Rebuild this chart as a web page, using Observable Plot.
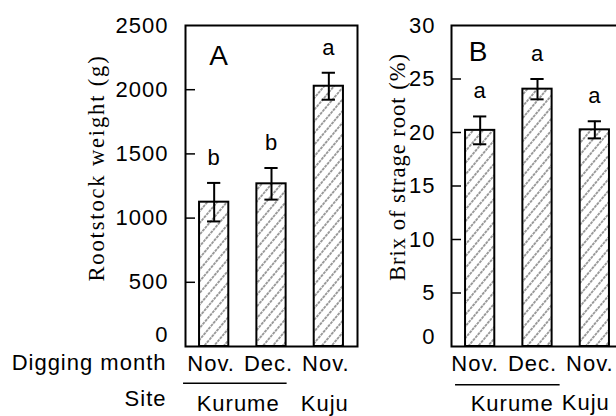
<!DOCTYPE html>
<html><head><meta charset="utf-8">
<script src="https://cdn.jsdelivr.net/npm/d3@7"></script>
<script src="https://cdn.jsdelivr.net/npm/@observablehq/plot@0.6"></script>
<style>
html,body{margin:0;padding:0;background:#fff;overflow:hidden;width:616px;height:416px}
#wrap{position:relative;width:616px;height:416px;overflow:hidden}
</style></head><body>
<svg width="0" height="0" style="position:absolute;left:0;top:0">
<defs><pattern id="hatch" patternUnits="userSpaceOnUse" width="7.5" height="7.5" patternTransform="rotate(40)">
<line x1="3.75" y1="-1" x2="3.75" y2="8.5" stroke="#2a2a2a" stroke-width="0.9" stroke-dasharray="3 0.8"/></pattern></defs></svg>
<div id="wrap"></div>
<script>
const months = ["Nov.", "Dec.", "Nov."];
const sites = ["Kurume", "Kurume", "Kuju"];
const weightMean = [1124, 1267, 2027];
const weightSE = [150, 123, 105];
const weightLetters = ["b", "b", "a"];
const brixMean = [20.2, 24.05, 20.25];
const brixSE = [1.3, 0.95, 0.8];
const brixLetters = ["a", "a", "a"];
const weightTicks = [0, 500, 1000, 1500, 2000, 2500];
const brixTicks = [0, 5, 10, 15, 20, 25, 30];

function panel(o) {
  const rows = months.map((m, i) => ({key: sites[i] + " " + m + " " + i, month: m, site: sites[i], mean: o.means[i], se: o.ses[i], letter: o.letters[i]}));
  const keys = rows.map(d => d.key);
  const yMax = o.ticks[o.ticks.length - 1];
  const inner = o.ticks.filter(t => t > 0 && t < yMax);
  const frameW = o.width - o.marginLeft - o.marginRight;
  const marks = [
    Plot.barY(rows, {x: "key", y: "mean", fill: "url(#hatch)", stroke: "black", strokeWidth: 2}),
    Plot.ruleX(rows, {x: "key", y1: d => d.mean - d.se, y2: d => d.mean + d.se, strokeWidth: 2}),
    Plot.tickY(rows, {x: "key", y: d => d.mean + d.se, strokeWidth: 2, inset: 8}),
    Plot.tickY(rows, {x: "key", y: d => d.mean - d.se, strokeWidth: 2, inset: 8}),
    Plot.ruleY(inner, {y: d => d, insetRight: frameW - 10, strokeWidth: 1.5}),
    Plot.frame({strokeWidth: 2}),
    Plot.text(o.ticks.filter(t => t > 0), {y: d => d, text: d => String(d), frameAnchor: "left", dx: o.tickDx, textAnchor: "end", lineAnchor: "middle", fontSize: 22}),
    Plot.text([0], {y: d => d, text: d => String(d), frameAnchor: "left", dx: o.tickDx, dy: o.zeroDy, textAnchor: "end", lineAnchor: "middle", fontSize: 22}),
    Plot.text(rows, {x: "key", y: d => d.mean + d.se, text: "letter", dy: -25, lineAnchor: "middle", fontSize: 22}),
    Plot.text([o.panelLabel], {frameAnchor: "top-left", dx: o.labelDx, dy: o.labelDy, textAnchor: "middle", lineAnchor: "middle", fontSize: 28}),
    Plot.text(rows, {x: "key", text: "month", frameAnchor: "bottom", dx: o.monthDx, dy: 17.5, lineAnchor: "middle", fontSize: 22}),
    Plot.ruleY([0], {x1: () => keys[0], x2: () => keys[1], dy: o.lineDy, insetLeft: o.lineInsetL, insetRight: o.lineInsetR, strokeWidth: 1.5}),
    Plot.text([rows[0]], {x: "key", text: "site", frameAnchor: "bottom", dx: o.kurumeDx, dy: o.kurumeDy, lineAnchor: "middle", fontSize: 22}),
    Plot.text([rows[2]], {x: "key", text: "site", frameAnchor: "bottom", dx: o.kujuDx, dy: o.kujuDy, lineAnchor: "middle", fontSize: 22}),
    Plot.text([o.ylabel], {frameAnchor: "left", dx: o.ylabDx, dy: o.ylabDy, rotate: -90, textAnchor: "middle", lineAnchor: "middle", fontFamily: "Liberation Serif, Times New Roman, serif", fontSize: 22.5, className: o.ylabClass})
  ];
  if (o.rowLabels) {
    marks.push(Plot.text(["Digging month"], {frameAnchor: "bottom-left", dx: -19, dy: 16, textAnchor: "end", lineAnchor: "middle", fontSize: 22}));
    marks.push(Plot.text(["Site"], {frameAnchor: "bottom-left", dx: -19, dy: 52, textAnchor: "end", lineAnchor: "middle", fontSize: 22}));
  }
  return Plot.plot({
    width: o.width, height: 416,
    marginLeft: o.marginLeft, marginRight: o.marginRight, marginTop: 25, marginBottom: 70,
    style: {fontFamily: "Liberation Sans, Arial, sans-serif", fontSize: "22px", letterSpacing: "1px", background: "transparent", maxWidth: "none", overflow: "visible", position: "absolute", left: "0px", top: "0px", color: "black"},
    x: {domain: keys, paddingInner: 0.49, paddingOuter: 0.245, round: false, axis: null},
    y: {domain: [0, yMax], axis: null},
    marks
  });
}

const wrap = document.getElementById("wrap");
wrap.appendChild(panel({
  means: weightMean, ses: weightSE, letters: weightLetters, ticks: weightTicks,
  ylabel: "Rootstock weight (g)", panelLabel: "A", ylabClass: "ylabA",
  width: 616, marginLeft: 185, marginRight: 259,
  tickDx: -17, zeroDy: -12, labelDx: 33.5, labelDy: 31, monthDx: -3,
  lineDy: 36.7, lineInsetL: -16, lineInsetR: -1,
  kurumeDx: 24, kurumeDy: 57, kujuDx: -4, kujuDy: 57,
  ylabDx: -89, ylabDy: -18, rowLabels: true
}));
wrap.appendChild(panel({
  means: brixMean, ses: brixSE, letters: brixLetters, ticks: brixTicks,
  ylabel: "Brix of strage root (%)", panelLabel: "B", ylabClass: "ylabB",
  width: 630, marginLeft: 451, marginRight: 7,
  tickDx: -16, zeroDy: -10, labelDx: 27, labelDy: 26.5, monthDx: -5,
  lineDy: 38.3, lineInsetL: -10, lineInsetR: -8,
  kurumeDx: 32, kurumeDy: 57.5, kujuDx: -9, kujuDy: 56,
  ylabDx: -54, ylabDy: -19, rowLabels: false
}));
const st = document.createElement("style");
st.textContent = ".ylabA text{letter-spacing:1.85px}";
document.head.appendChild(st);
</script>
</body></html>
